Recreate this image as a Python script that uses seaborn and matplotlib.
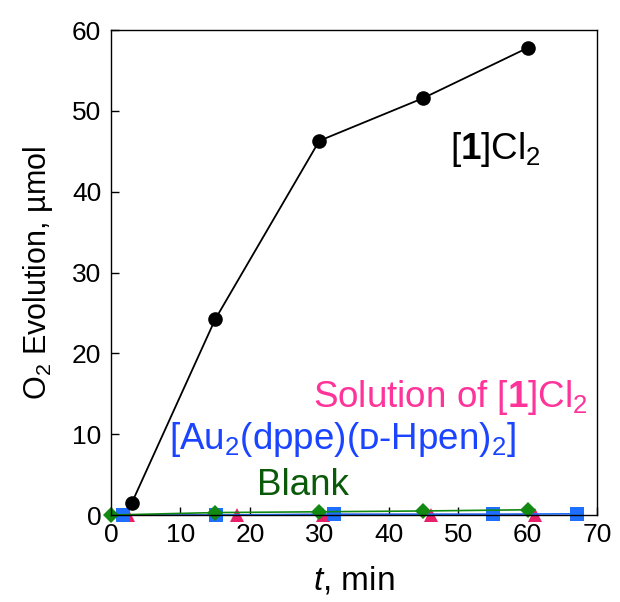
import matplotlib
matplotlib.use("Agg")
import matplotlib.pyplot as plt
import seaborn as sns

# data
t_cat = [3, 15, 30, 45, 60]
o2_cat = [1.5, 24.2, 46.3, 51.6, 57.8]

t_blank = [0, 15, 30, 45, 60]
o2_blank = [0.0, 0.3, 0.4, 0.5, 0.65]

t_au = [1.7, 15.1, 32.1, 55.0, 67.1]
o2_au = [0.0, 0.0, 0.1, 0.1, 0.15]

t_sol = [2.4, 18.1, 30.5, 46.1, 61.1]
o2_sol = [0.0, 0.0, 0.05, 0.05, 0.05]

sns.set_style("ticks")
plt.rcParams['font.family'] = ['Liberation Sans', 'DejaVu Sans']
plt.rcParams['mathtext.fontset'] = 'custom'
plt.rcParams['mathtext.rm'] = 'Liberation Sans'
plt.rcParams['mathtext.it'] = 'Liberation Sans:italic'
plt.rcParams['mathtext.bf'] = 'Liberation Sans:bold'
for k in ['text.color', 'axes.labelcolor', 'xtick.color', 'ytick.color']:
    plt.rcParams[k] = 'black'

fig = plt.figure(figsize=(6.2, 6.02), dpi=100)
ax = fig.add_axes([0.179, 0.1445, 0.784, 0.8055])

sns.lineplot(x=t_sol, y=o2_sol, ax=ax, color='#e8206a', marker='^', markersize=10.5,
             markeredgewidth=0, linewidth=1.2, clip_on=False)
sns.lineplot(x=t_au, y=o2_au, ax=ax, color='#1e6eff', marker='s', markersize=10.5,
             markeredgewidth=0, linewidth=1.2, clip_on=False)
sns.lineplot(x=t_blank, y=o2_blank, ax=ax, color='#128a12', marker='D', markersize=8.5,
             markeredgewidth=0, linewidth=1.2, clip_on=False)
sns.lineplot(x=t_cat, y=o2_cat, ax=ax, color='black', marker='o', markersize=10.5,
             markeredgewidth=0, linewidth=1.3, clip_on=False)

ax.set_xlim(0, 70)
ax.set_ylim(0, 60)
ax.set_xticks(range(0, 71, 10))
ax.set_yticks(range(0, 61, 10))
ax.tick_params(direction='in', length=6, width=1, labelsize=19)
ax.tick_params(axis='x', pad=6)
ax.tick_params(axis='y', pad=7)
for s in ax.spines.values():
    s.set_linewidth(1)
    s.set_color('black')

ax.set_xlabel(r"$\it{t}$, min", fontsize=24, labelpad=12)
ax.set_ylabel(r"O$_2$ Evolution, µmol", fontsize=22, labelpad=12)

fs = 26.5
ax.text(55.3, 45.2, r"[$\mathbf{1}$]Cl$_2$", fontsize=fs, ha='center', va='center')
ax.text(68.7, 14.5, r"Solution of [$\mathbf{1}$]Cl$_2$", fontsize=fs, ha='right', va='center',
        color='#ff3399')
ax.text(8.4, 9.3, "[Au$_2$(dppe)(ᴅ-Hpen)$_2$]", fontsize=fs, ha='left', va='center',
        color='#1a44ff')
ax.text(21.1, 3.7, "Blank", fontsize=fs, ha='left', va='center', color='#0a5a0a')

fig.savefig("out.png", dpi=100)
